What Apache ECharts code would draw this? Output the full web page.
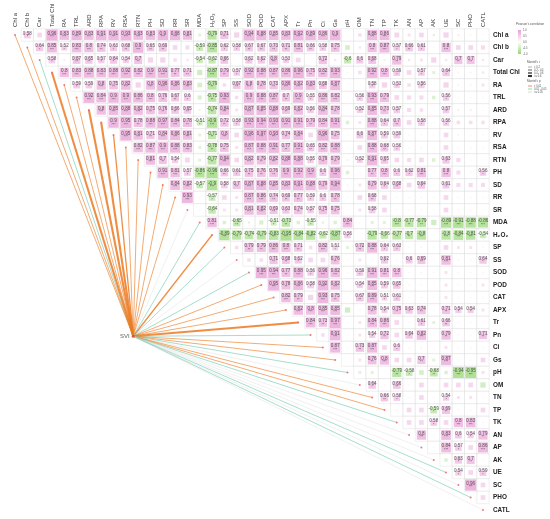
<!DOCTYPE html>
<html>
<head>
<meta charset="utf-8">
<script src="https://cdn.jsdelivr.net/npm/echarts@6.0.0/dist/echarts.min.js"></script>
<style>
html, body { margin: 0; padding: 0; background: #fff; }
#main { width: 550px; height: 519px; }
</style>
</head>
<body>
<div id="main"></div>
<script>
var myChart = echarts.init(document.getElementById('main'))

var variables = ['Chl a', 'Chl b', 'Car', 'Total Chl', 'RA', 'TRL', 'ARD', 'RPA', 'RV', 'RSA', 'RTN', 'PH', 'SD', 'RR', 'SR',
    'MDA', 'H₂O₂', 'SP', 'SS', 'SOD', 'POD', 'CAT', 'APX', 'Tr', 'Pn', 'Ci', 'Gs', 'pH', 'OM', 'TN', 'TP', 'TK', 'AN', 'AP',
    'AK', 'UE', 'SC', 'PHO', 'CATL']

// upper triangle of Pearson's r, row i holds columns i+1 .. end
var pearson = [
    [0.58, 0.4, 0.96, 0.83, 0.89, 0.83, 0.91, 0.91, 0.93, 0.83, 0.83, 0.9, 0.88, 0.81, -0.25, -0.79, 0.71, 0.45, 0.94, 0.88, 0.85, 0.83, 0.92, 0.89, 0.86, 0.9, 0.08, 0.3, 0.88, 0.86, 0.42, 0.25, 0.4, -0.2, 0.45, 0.15, 0.1, 0.1],
    [0.64, 0.85, 0.52, 0.83, 0.8, 0.74, 0.63, 0.68, 0.9, 0.65, 0.69, 0.4, 0.35, -0.59, -0.85, 0.62, 0.58, 0.67, 0.67, 0.73, 0.71, 0.81, 0.66, 0.58, 0.75, -0.4, 0.2, 0.8, 0.87, 0.57, 0.66, 0.61, -0.1, 0.8, 0.4, 0.4, 0.35],
    [0.58, 0.15, 0.67, 0.65, 0.57, 0.64, 0.54, 0.7, 0.45, 0.45, 0.3, 0.2, -0.54, -0.62, 0.66, 0.03, 0.62, 0.62, 0.8, 0.53, 0.4, 0.03, 0.72, 0.2, -0.6, 0.6, 0.68, 0.15, 0.79, 0.2, 0.25, 0.45, 0.2, 0.7, 0.7, 0.2],
    [0.8, 0.83, 0.88, 0.83, 0.88, 0.92, 0.82, 0.9, 0.91, 0.77, 0.71, -0.45, -0.87, 0.79, 0.57, 0.92, 0.88, 0.87, 0.86, 0.96, 0.75, 0.82, 0.93, 0.1, 0.3, 0.92, 0.8, 0.59, 0.4, 0.57, -0.25, 0.64, 0.12, 0.12, 0.2],
    [0.59, 0.59, 0.8, 0.75, 0.82, 0.45, 0.8, 0.96, 0.86, 0.83, -0.4, -0.79, 0.3, 0.67, 0.8, 0.78, 0.73, 0.86, 0.82, 0.83, 0.68, 0.87, 0.08, 0.08, 0.58, 0.45, 0.53, 0.3, 0.56, 0.03, 0.45, 0.12, 0.12, 0.25],
    [0.92, 0.84, 0.9, 0.9, 0.86, 0.8, 0.76, 0.67, 0.6, -0.35, -0.75, 0.93, 0.3, 0.9, 0.88, 0.87, 0.7, 0.9, 0.55, 0.86, 0.82, 0.08, 0.56, 0.93, 0.79, 0.4, 0.35, 0.35, -0.3, 0.56, 0.1, 0.1, 0.1],
    [0.8, 0.85, 0.88, 0.82, 0.75, 0.76, 0.66, 0.65, -0.15, -0.74, 0.84, 0.25, 0.87, 0.85, 0.88, 0.69, 0.82, 0.56, 0.84, 0.78, 0.08, 0.52, 0.85, 0.73, 0.57, 0.35, 0.3, 0.08, 0.57, 0.15, 0.15, 0.1],
    [0.9, 0.95, 0.78, 0.88, 0.97, 0.84, 0.78, -0.51, -0.9, 0.72, 0.58, 0.93, 0.94, 0.93, 0.91, 0.91, 0.79, 0.84, 0.91, -0.3, 0.25, 0.88, 0.64, 0.7, 0.4, 0.58, 0.08, 0.56, 0.3, 0.3, 0.3],
    [0.95, 0.81, 0.71, 0.84, 0.86, 0.81, -0.25, -0.71, 0.8, 0.4, 0.96, 0.97, 0.93, 0.74, 0.84, 0.4, 0.96, 0.75, 0.08, 0.6, 0.87, 0.59, 0.59, 0.1, 0.1, 0.08, 0.4, 0.12, 0.1, 0.1],
    [0.82, 0.87, 0.9, 0.88, 0.83, -0.25, -0.78, 0.75, 0.25, 0.87, 0.88, 0.91, 0.77, 0.91, 0.65, 0.82, 0.88, 0.08, 0.4, 0.88, 0.68, 0.56, 0.1, 0.1, 0.08, 0.4, 0.1, 0.1, 0.1],
    [0.81, 0.7, 0.54, 0.42, -0.25, -0.77, 0.94, 0.4, 0.82, 0.79, 0.82, 0.88, 0.88, 0.55, 0.79, 0.79, -0.15, 0.52, 0.91, 0.65, 0.4, 0.35, 0.4, -0.3, 0.63, 0.35, 0.1, 0.1],
    [0.91, 0.81, 0.57, -0.86, -0.96, 0.66, 0.61, 0.75, 0.76, 0.76, 0.9, 0.92, 0.9, 0.6, 0.96, -0.3, 0.1, 0.77, 0.8, 0.6, 0.62, 0.81, 0.08, 0.8, 0.35, 0.1, 0.56],
    [0.84, 0.82, -0.57, -0.9, 0.58, 0.7, 0.87, 0.88, 0.85, 0.83, 0.91, 0.88, 0.79, 0.94, -0.12, 0.25, 0.79, 0.64, 0.68, 0.4, 0.64, 0.08, 0.61, 0.35, 0.35, 0.35],
    [0.93, 0.1, -0.57, 0.4, 0.25, 0.87, 0.86, 0.74, 0.69, 0.77, 0.59, 0.6, 0.78, 0.08, 0.4, 0.68, 0.4, 0.1, 0.1, 0.1, 0.08, 0.4, 0.1, 0.1, 0.1],
    [0.1, -0.64, 0.25, 0.25, 0.81, 0.82, 0.69, 0.63, 0.74, 0.57, 0.75, 0.75, 0.08, 0.25, 0.58, 0.4, 0.1, 0.1, 0.1, 0.08, 0.4, 0.1, 0.1, 0.1],
    [0.81, -0.3, -0.65, -0.2, -0.35, -0.51, -0.73, -0.3, -0.55, -0.2, -0.3, 0.84, 0.08, -0.25, -0.25, -0.8, -0.77, -0.79, -0.45, -0.89, -0.91, -0.88, -0.86],
    [-0.89, -0.79, -0.74, -0.79, -0.83, -0.95, -0.84, -0.82, -0.62, -0.87, 0.56, 0.08, -0.79, -0.66, -0.77, -0.7, -0.8, -0.1, -0.8, -0.84, -0.81, -0.54],
    [0.3, 0.79, 0.79, 0.86, 0.8, 0.71, 0.3, 0.82, 0.51, -0.25, 0.72, 0.88, 0.64, 0.63, 0.1, 0.1, 0.08, 0.4, 0.25, 0.25, 0.1],
    [0.3, 0.3, 0.71, 0.68, 0.62, 0.4, 0.4, 0.76, 0.08, 0.25, 0.1, 0.62, 0.1, 0.6, 0.69, 0.08, 0.81, 0.1, 0.1, 0.64],
    [0.95, 0.94, 0.77, 0.88, 0.56, 0.96, 0.82, 0.08, 0.59, 0.91, 0.81, 0.8, 0.1, 0.1, 0.08, 0.25, 0.1, 0.1, 0.1],
    [0.95, 0.78, 0.86, 0.58, 0.92, 0.82, 0.08, 0.54, 0.85, 0.59, 0.65, 0.1, 0.1, 0.08, 0.25, 0.1, 0.1, 0.25],
    [0.82, 0.79, 0.45, 0.93, 0.75, 0.08, 0.67, 0.89, 0.51, 0.61, 0.1, 0.1, 0.08, 0.25, 0.1, 0.1, 0.1],
    [0.82, 0.8, 0.85, 0.85, -0.45, 0.1, 0.78, 0.54, 0.75, 0.63, 0.74, 0.08, 0.71, 0.54, 0.54, 0.25],
    [0.84, 0.73, 0.97, 0.08, 0.25, 0.84, 0.86, 0.4, 0.1, 0.61, -0.25, 0.66, 0.1, 0.1, 0.1],
    [0.3, 0.91, 0.08, 0.25, 0.54, 0.72, 0.4, 0.64, 0.82, 0.08, 0.79, 0.1, 0.1, 0.71],
    [0.87, 0.08, 0.73, 0.87, 0.4, 0.6, 0.1, 0.1, 0.08, 0.25, 0.1, 0.1, 0.1],
    [0.08, 0.25, 0.76, 0.8, 0.4, 0.4, 0.7, -0.25, 0.87, 0.1, 0.1, 0.4],
    [-0.25, -0.25, 0.03, -0.79, -0.58, -0.4, -0.68, -0.3, -0.94, -0.95, 0.25],
    [0.64, 0.1, 0.66, 0.1, 0.4, 0.1, 0.4, 0.4, 0.4, -0.45],
    [0.66, 0.58, 0.1, 0.4, 0.08, 0.54, 0.25, 0.25, 0.1],
    [0.1, 0.4, 0.4, -0.59, 0.69, 0.1, 0.1, 0.4],
    [0.4, 0.4, 0.58, 0.4, 0.8, 0.83, 0.1],
    [0.8, 0.1, 0.83, 0.6, 0.54, 0.79],
    [0.1, 0.84, 0.57, 0.4, 0.86],
    [-0.3, 0.63, 0.7, 0.1],
    [0.54, 0.4, 0.59],
    [0.96, 0.4],
    [0.4]
]

// Mantel test of SVI against each variable
var mantelR = [0.25, 0.25, 0.25, 0.65, 0.25, 0.35, 0.62, 0.6, 0.45, 0.3, 0.3, 0.3, 0.3, 0.25, 0.12, 0.22, 0.42, 0.22, 0.12,
    0.22, 0.35, 0.3, 0.35, 0.65, 0.22, 0.25, 0.3, 0.22, 0.12, 0.3, 0.3, 0.22, 0.1, 0.1, 0.1, 0.22, 0.1, 0.2, 0.1]
var mantelP = [0.005, 0.005, 0.03, 0.001, 0.005, 0.005, 0.001, 0.001, 0.001, 0.005, 0.005, 0.005, 0.005, 0.005, 0.2,
    0.03, 0.005, 0.03, 0.2, 0.03, 0.005, 0.005, 0.005, 0.001, 0.03, 0.005, 0.005, 0.03, 0.2, 0.005, 0.005, 0.03,
    0.2, 0.2, 0.2, 0.03, 0.2, 0.03, 0.2]

var corrTicks = ['1.0', '0.5', '0.0', '-0.5', '-1.0']
var rBreaks = ['< 0.2', '0.2 - 0.4', '0.4 - 0.6', '>= 0.6']
var pBreaks = ['< 0.01', '0.01 - 0.05', '>= 0.05']

// layout
var gridLeft = 15, gridTop = 35, gridW = 468, gridH = 475
var n = variables.length
var cellW = gridW / (n - 1), cellH = gridH / (n - 1)
var sviPos = [9.6, 24.1]

var rWidths = [0.4, 0.75, 1.3, 2.1]
var pColors = ['#ec7a22', '#72cbb0', '#d2d2d2']

function lerp(a, b, t) {
    return 'rgb(' + [0, 1, 2].map(function (k) { return Math.round(a[k] + (b[k] - a[k]) * t) }).join(',') + ')'
}
function corrColor(r) {
    if (r >= 0) return lerp([251, 236, 246], [232, 160, 213], r)
    return lerp([238, 248, 232], [152, 215, 118], -r)
}
function stars(r) {
    var a = Math.abs(r)
    if (a >= 0.8) return '***'
    if (a >= 0.65) return '**'
    return '*'
}
function widthOf(r) {
    if (r < 0.2) return rWidths[0]
    if (r < 0.4) return rWidths[1]
    if (r < 0.6) return rWidths[2]
    return rWidths[3]
}
function colorOf(p) {
    if (p < 0.01) return pColors[0]
    if (p < 0.05) return pColors[1]
    return pColors[2]
}

var bgData = []
var sqData = []
for (var i = 0; i < pearson.length; i++) {
    for (var k = 0; k < pearson[i].length; k++) {
        var j = i + 1 + k
        var r = pearson[i][k]
        var side = Math.abs(r) * 0.94
        bgData.push([j, i])
        sqData.push({
            value: [j, i, r],
            symbolSize: [side * cellW, side * cellH],
            itemStyle: { color: corrColor(r) },
            lbl: Math.abs(r) >= 0.5
        })
    }
}

var lineData = []
var diagData = []
for (i = 0; i < n; i++) {
    lineData.push({
        coords: [sviPos, [i, i]],
        lineStyle: { color: colorOf(mantelP[i]), width: widthOf(mantelR[i]) }
    })
    diagData.push([i, i])
}

// legend drawn as graphics
var lg = []
function txt(x, y, s, size) {
    return { type: 'text', left: x, top: y, style: { text: s, fontSize: size, fill: '#555', fontFamily: 'Arial' } }
}
lg.push(txt(516, 23, "Pearson's correlation", 3))
lg.push({
    type: 'rect', left: 518, top: 30, shape: { width: 3, height: 24 },
    style: {
        fill: new echarts.graphic.LinearGradient(0, 0, 0, 1, [
            { offset: 0, color: corrColor(1) }, { offset: 0.5, color: '#ffffff' }, { offset: 1, color: corrColor(-1) }
        ])
    }
})
for (i = 0; i < corrTicks.length; i++) lg.push(txt(523, 29 + i * 6, corrTicks[i], 2.6))
lg.push(txt(527, 61, "Mantel's r", 3))
for (i = 0; i < rBreaks.length; i++) {
    var yy = 67 + i * 3
    lg.push({ type: 'line', shape: { x1: 528, y1: yy, x2: 532, y2: yy }, style: { stroke: '#333', lineWidth: rWidths[i] } })
    lg.push(txt(534, yy - 1.3, rBreaks[i], 2.6))
}
lg.push(txt(527, 80, "Mantel's p", 3))
for (i = 0; i < pBreaks.length; i++) {
    var yp = 86 + i * 3
    lg.push({ type: 'line', shape: { x1: 528, y1: yp, x2: 532, y2: yp }, style: { stroke: pColors[i], lineWidth: 0.8 } })
    lg.push(txt(534, yp - 1.3, pBreaks[i], 2.6))
}

option = {
    animation: false,
    backgroundColor: '#fff',
    grid: { left: gridLeft, top: gridTop, width: gridW, height: gridH },
    xAxis: {
        type: 'value', position: 'top', min: 0, max: n - 1, interval: 1,
        axisLine: { show: false }, axisTick: { show: false }, splitLine: { show: false },
        axisLabel: {
            rotate: 90, margin: 8, fontSize: 6, color: '#333', fontFamily: 'Arial',
            formatter: function (v) { return variables[v] || '' }
        }
    },
    yAxis: {
        type: 'value', position: 'right', inverse: true, min: 0, max: n - 1, interval: 1,
        axisLine: { show: false }, axisTick: { show: false }, splitLine: { show: false },
        axisLabel: {
            margin: 10, fontSize: 6.4, fontWeight: 'bold', color: '#222', fontFamily: 'Arial',
            formatter: function (v) { return variables[v] || '' }
        }
    },
    graphic: lg,
    series: [
        {
            type: 'lines', coordinateSystem: 'cartesian2d', silent: true, z: 1,
            lineStyle: { opacity: 0.85, curveness: 0 },
            data: lineData
        },
        {
            type: 'scatter', symbol: 'rect', symbolSize: [cellW, cellH], clip: false, silent: true, z: 2,
            itemStyle: { color: '#fff', borderColor: '#d9d9d9', borderWidth: 0.5 },
            data: bgData
        },
        {
            type: 'scatter', symbol: 'rect', clip: false, silent: true, z: 3,
            label: {
                show: true, position: 'inside',
                formatter: function (p) {
                    if (!p.data.lbl) return ''
                    var r = p.data.value[2]
                    return '{v|' + String(Number(r.toFixed(2))) + '}\n{s|' + stars(r) + '}'
                },
                rich: {
                    v: { fontSize: 4.6, lineHeight: 5, color: '#333', fontFamily: 'Arial' },
                    s: { fontSize: 3.4, lineHeight: 3.4, color: '#333', fontFamily: 'Arial' }
                }
            },
            data: sqData
        },
        {
            type: 'scatter', symbolSize: 2, clip: false, silent: true, z: 4,
            itemStyle: { color: '#ef5b5b' },
            data: diagData
        },
        {
            type: 'scatter', symbolSize: 3, clip: false, silent: true, z: 4,
            itemStyle: { color: '#e53935' },
            label: { show: true, position: 'left', distance: 2, formatter: 'SVI', fontSize: 6, color: '#333', fontFamily: 'Arial' },
            data: [sviPos]
        }
    ]
}
myChart.setOption(option)
</script>
</body>
</html>
